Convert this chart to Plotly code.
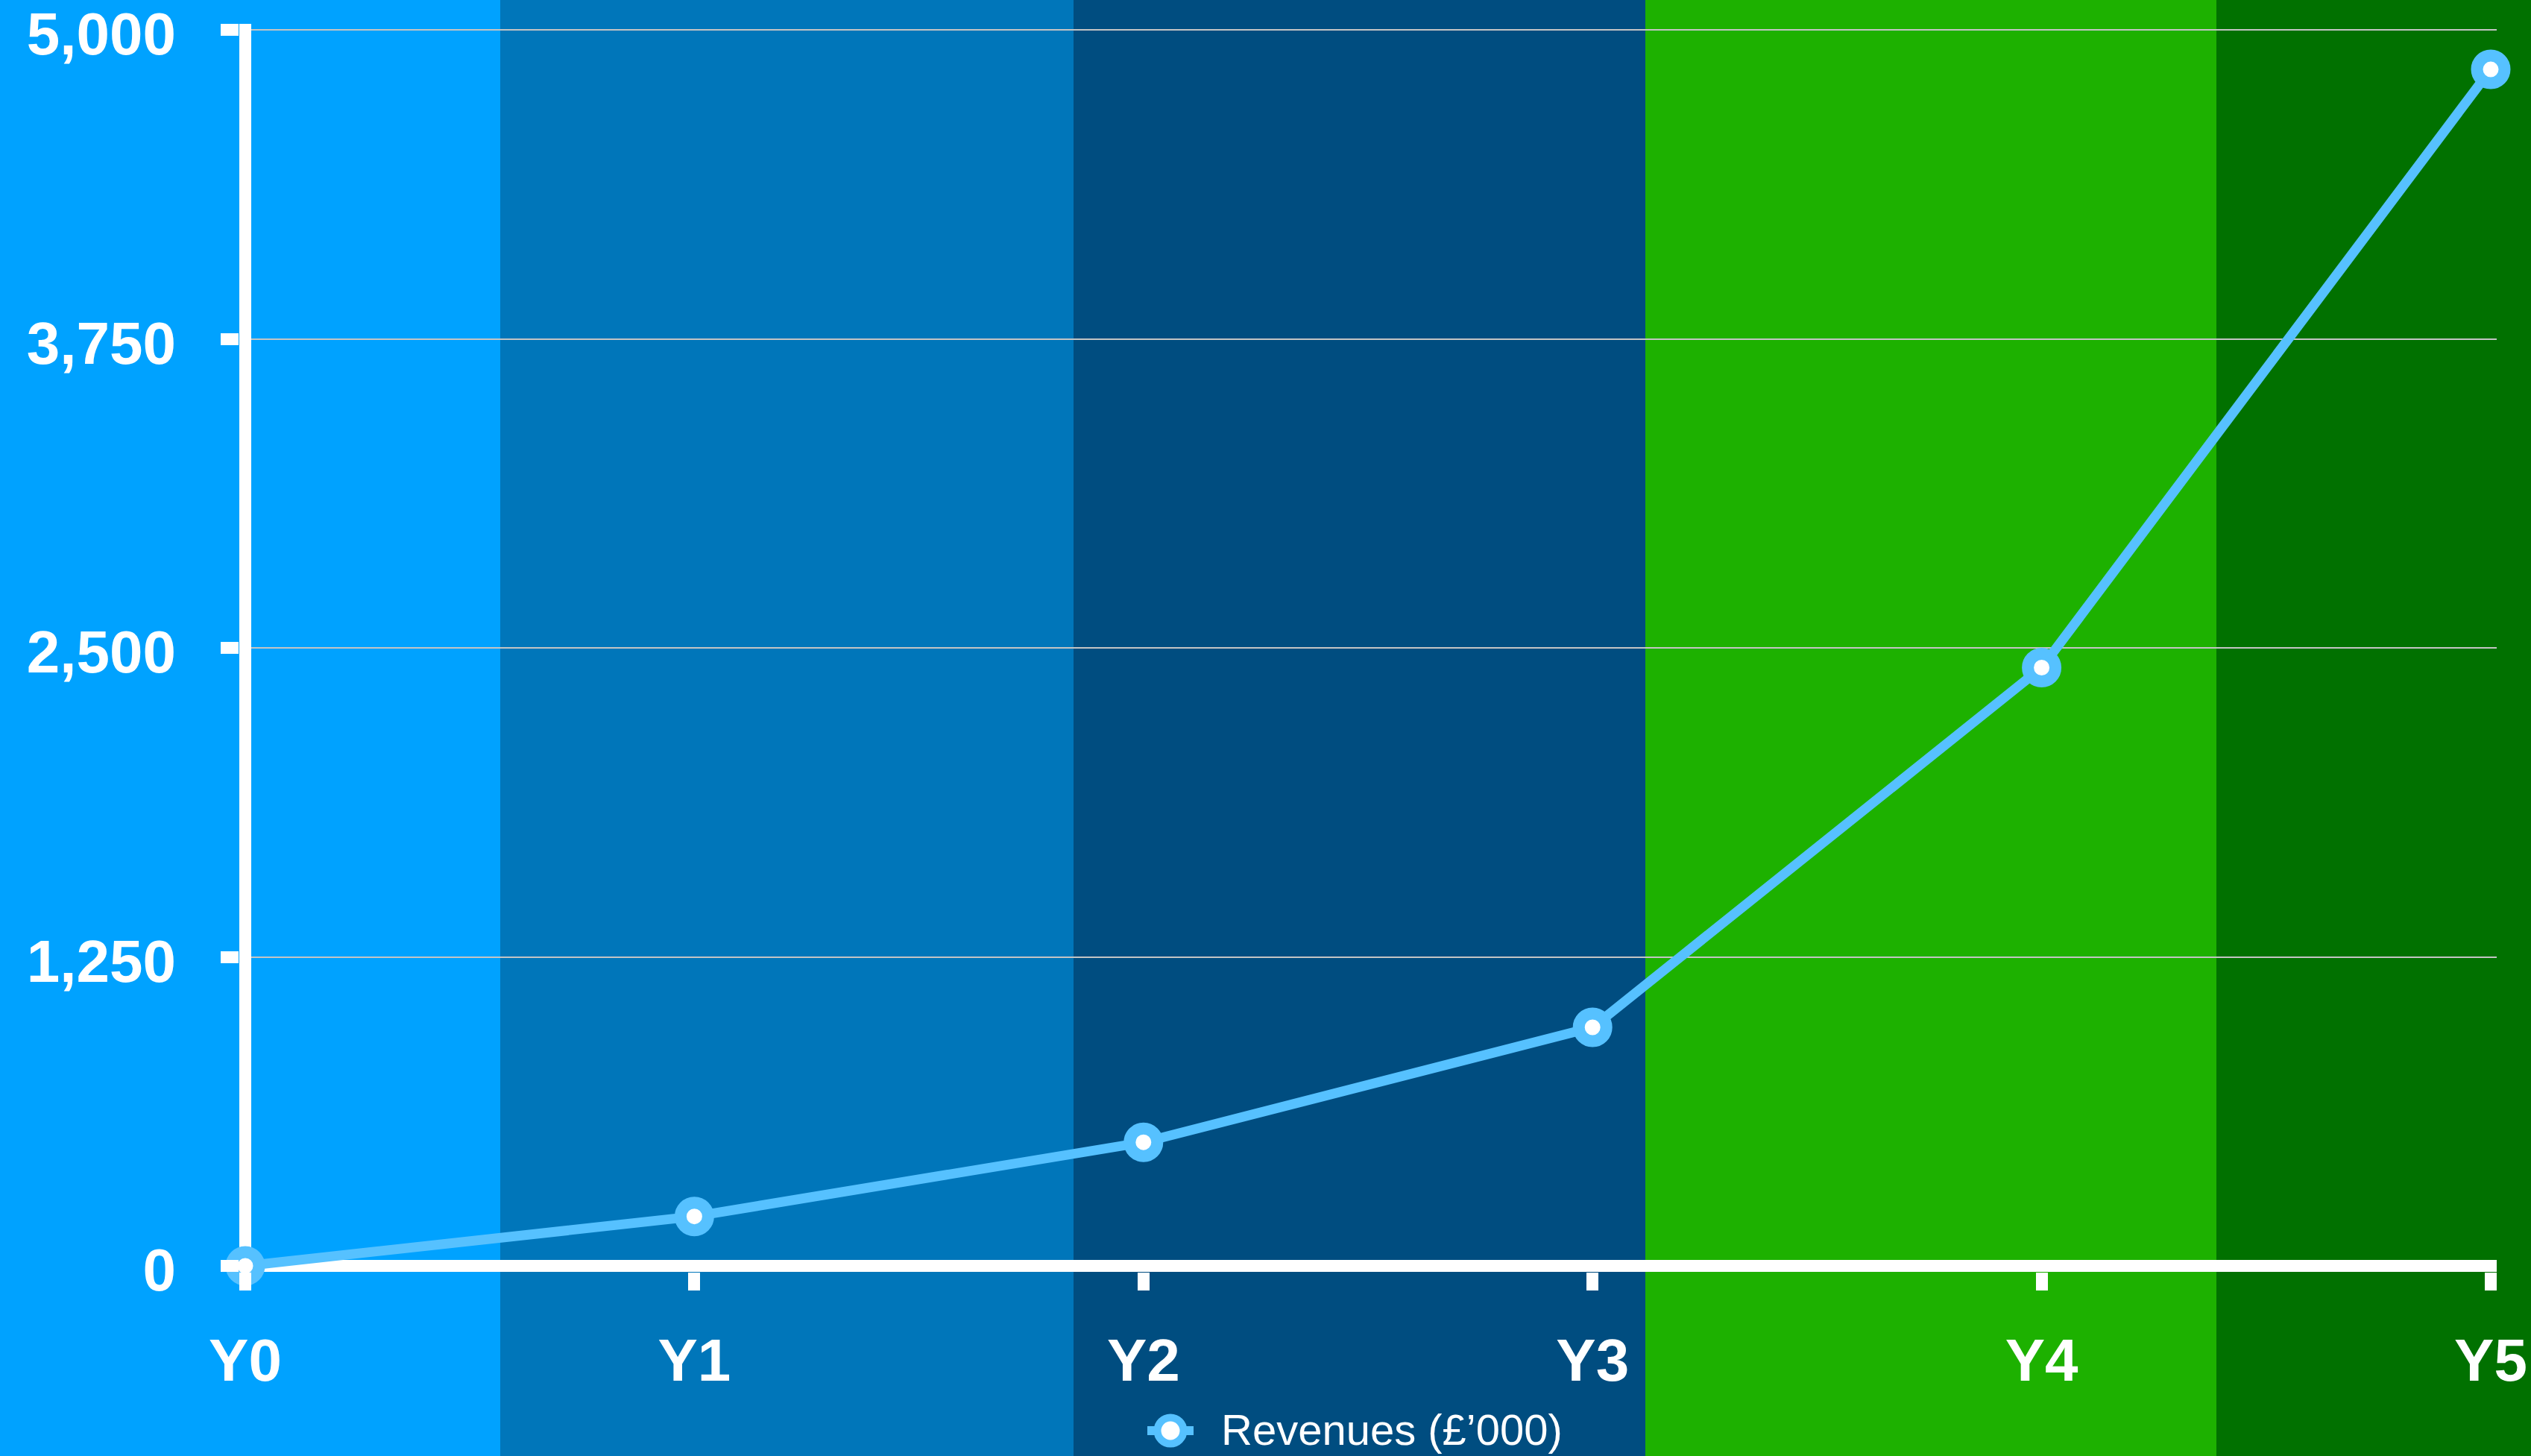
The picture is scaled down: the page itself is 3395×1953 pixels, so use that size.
import plotly.graph_objects as go

# ---- data -------------------------------------------------------------
years = ["Y0", "Y1", "Y2", "Y3", "Y4", "Y5"]
revenues = [0, 200, 500, 965, 2420, 4840]
series_name = "Revenues (£’000)"

y_tick_values = [0, 1250, 2500, 3750, 5000]
y_tick_labels = ["0", "1,250", "2,500", "3,750", "5,000"]

band_colors = ["#00A2FF", "#0076BA", "#004D80", "#1DB100", "#017100"]

# ---- page / plot-area geometry (pixels) ---------------------------------
W, H = 3395, 1953
L, R, T, B = 321, 3349, 32, 1706       # plot area incl. half axis-line width
EDGE = 8                                # half of the axis line width
PW, PH = R - L, B - T

x_idx = list(range(len(years)))
x_step = (PW - 2 * EDGE) / (len(years) - 1)
x_pad = EDGE / x_step
y_max = y_tick_values[-1]
y_scale = (PH - 2 * EDGE) / y_max
y_pad = EDGE / y_scale


def px_to_paper_x(px):
    return (px - L) / PW


def px_to_paper_y(py):
    return (B - py) / PH


LINE_BLUE = "#56C1FF"
FONT = "Liberation Sans"

fig = go.Figure()
fig.add_trace(go.Scatter(
    x=x_idx, y=revenues, name=series_name,
    mode="lines+markers",
    line=dict(color=LINE_BLUE, width=13),
    marker=dict(symbol="circle", size=37, color="white",
                line=dict(color=LINE_BLUE, width=16)),
    cliponaxis=False, showlegend=False,
))

# coloured background bands across the whole page
band_edges_px = [-20, 671, 1440, 2207, 2973, W + 20]
shapes = []
for i, col in enumerate(band_colors):
    shapes.append(dict(
        type="rect", xref="paper", yref="paper", layer="below",
        x0=px_to_paper_x(band_edges_px[i]), x1=px_to_paper_x(band_edges_px[i + 1]),
        y0=px_to_paper_y(H + 20), y1=px_to_paper_y(-20),
        fillcolor=col, line=dict(width=0),
    ))

# legend swatch: short line with a ring marker
lx, ly = 1570, 1919
shapes.append(dict(
    type="line", xref="paper", yref="paper",
    x0=px_to_paper_x(lx - 31), x1=px_to_paper_x(lx + 31),
    y0=px_to_paper_y(ly), y1=px_to_paper_y(ly),
    line=dict(color=LINE_BLUE, width=12),
))
shapes.append(dict(
    type="circle", xref="paper", yref="paper",
    x0=px_to_paper_x(lx - 17.5), x1=px_to_paper_x(lx + 17.5),
    y0=px_to_paper_y(ly + 17.5), y1=px_to_paper_y(ly - 17.5),
    fillcolor="white", line=dict(color=LINE_BLUE, width=10),
))

annotations = [dict(
    text=series_name, xref="paper", yref="paper",
    x=px_to_paper_x(1636), y=px_to_paper_y(1917),
    xanchor="left", yanchor="middle", showarrow=False,
    font=dict(family=FONT, size=58, color="white"),
)]

fig.update_layout(
    width=W, height=H,
    margin=dict(l=L, r=W - R, t=T, b=H - B, pad=0, autoexpand=False),
    paper_bgcolor="#017100",
    plot_bgcolor="rgba(0,0,0,0)",
    shapes=shapes,
    annotations=annotations,
    showlegend=False,
    font=dict(family=FONT, color="white"),
)

fig.update_xaxes(
    range=[-x_pad, x_idx[-1] + x_pad],
    tickvals=x_idx, ticktext=years,
    showgrid=False, showline=False, automargin=False,
    zeroline=True, zerolinecolor="white", zerolinewidth=16,
    ticks="outside", ticklen=24, tickwidth=16, tickcolor="white",
    ticklabelstandoff=25, ticklabeloverflow="allow",
    tickfont=dict(family=FONT, size=80, color="white", weight="bold"),
)
fig.update_yaxes(
    range=[-y_pad, y_max + y_pad],
    tickvals=y_tick_values, ticktext=y_tick_labels,
    showgrid=True, gridcolor="#C4C4C4", gridwidth=2,
    showline=False, automargin=False,
    zeroline=True, zerolinecolor="white", zerolinewidth=16,
    ticks="outside", ticklen=24, tickwidth=16, tickcolor="white",
    ticklabelstandoff=44, ticklabelshift=5, ticklabeloverflow="allow",
    tickfont=dict(family=FONT, size=80, color="white", weight="bold"),
)

fig.write_html(
    "out.html",
    post_script="document.body.style.margin='0';document.body.style.overflow='hidden';",
)
